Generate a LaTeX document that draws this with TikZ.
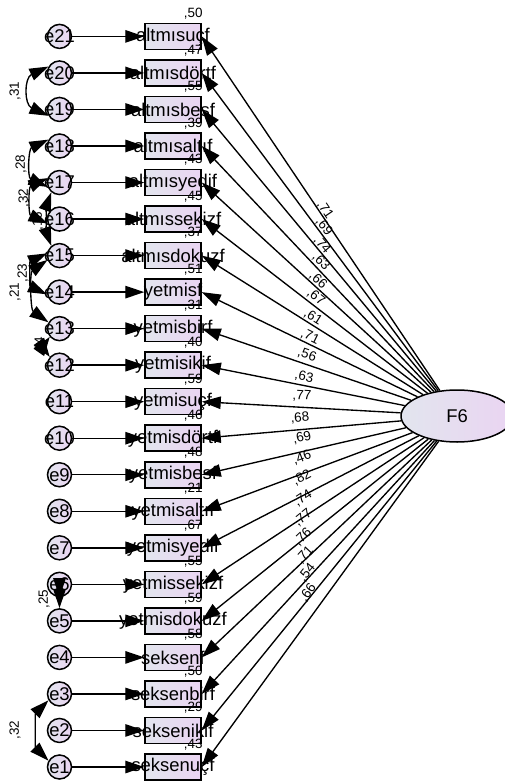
\documentclass[tikz,border=0pt]{standalone}
\usepackage{fontspec}
\setmainfont{Liberation Sans}
\usetikzlibrary{arrows.meta,shapes.geometric}
\definecolor{fillL}{HTML}{E2E5EE}
\definecolor{fillR}{HTML}{EAD4F2}
\begin{document}
\begin{tikzpicture}[x=1bp,y=1bp,
  arr/.style={-{Triangle[length=19bp,width=12.5bp]}, line width=1.35bp},
  biarr/.style={{Triangle[length=19bp,width=12.5bp]}-{Triangle[length=19bp,width=12.5bp]}, line width=1.35bp},
  errc/.style={circle, draw, line width=1.5bp, minimum size=24bp, inner sep=0pt, left color=fillL, right color=fillR, font=\fontsize{18.5}{18.5}\selectfont},
  obs/.style={rectangle, draw, line width=1.5bp, minimum width=56bp, minimum height=26bp, inner sep=0pt, left color=fillL, right color=fillR, font=\fontsize{18.5}{18.5}\selectfont},
  lat/.style={ellipse, draw, line width=1.5bp, minimum width=112bp, minimum height=52bp, inner sep=0pt, left color=fillL, right color=fillR, font=\fontsize{18.5}{18.5}\selectfont},
  small/.style={font=\fontsize{13.5}{13.5}\selectfont, inner sep=0pt}
]
\useasboundingbox (0,0) rectangle (505,-783);
% latent factor
\node[lat] (F6) at (457,-416) {F6};
% error circles and observed boxes
\foreach \k/\nm in {21/altmısuçf,20/altmısdörtf,19/altmısbesf,18/altmısaltıf,17/altmısyedif,16/altmıssekizf,15/altmısdokuzf,14/yetmisf,13/yetmisbirf,12/yetmisikif,11/yetmisuçf,10/yetmisdörtf,9/yetmisbesf,8/yetmisaltıf,7/yetmisyedif,6/yetmissekizf,5/yetmisdokuzf,4/seksenf,3/seksenbirf,2/seksenikif,1/seksenuçf}{
  \pgfmathsetmacro\yy{-(767-(\k-1)*36.53)}
  \node[errc] (e\k) at (59.5,\yy) {\makebox[0pt]{e\k}};
  \node[obs] (b\k) at (173,\yy) {\makebox[0pt]{\nm}};
}
% arrows
\foreach \k in {1,...,21}{
  \draw[arr] (e\k) -- (b\k);
  \draw[arr] (F6) -- (b\k.east);
}
% variances of the indicators
\foreach \k/\v in {21/{,50},20/{,47},19/{,55},18/{,39},17/{,43},16/{,45},15/{,37},14/{,51},13/{,31},12/{,40},11/{,59},10/{,46},9/{,48},8/{,21},7/{,67},6/{,55},5/{,59},4/{,58},3/{,50},2/{,29},1/{,43}}{
  \node[small, anchor=south east] at ([xshift=1bp,yshift=3bp]b\k.north east) {\v};
}
% loadings
\foreach \k/\v/\lx/\ly in {21/{,71}/325/210,20/{,69}/324/227,19/{,74}/322/245,18/{,63}/321/262,17/{,66}/318/280,16/{,67}/316/297,15/{,61}/313/317,14/{,71}/310/337,13/{,56}/307/355,12/{,63}/304/377,11/{,77}/302/396,10/{,68}/300/418,9/{,69}/302/438,8/{,46}/302/458,7/{,82}/302/478,6/{,74}/303/498,5/{,77}/303/518,4/{,76}/303/537,3/{,71}/305/555,2/{,54}/307/573,1/{,66}/308/593}{
  \pgfmathsetmacro\ang{atan2(767-(\k-1)*36.53-416,256)}
  \node[small, rotate=\ang] (l\k) at (\lx,-\ly) {\v};
}
% covariances
\draw[biarr] (e20.150) to[out=205,in=155,looseness=1.4] (e19.210);
\node[small, rotate=90] (c1) at (15,-91) {,31};
\draw[biarr] (e18.150) to[out=205,in=155,looseness=1.2] (e17.200);
\node[small, rotate=90] (c2) at (21,-164) {,28};
\draw[biarr] (e17.160) to[out=205,in=155,looseness=1.2] (e16.200);
\node[small, rotate=90] (c3) at (24,-198) {,32};
\draw[biarr] (e17.230) to[out=250,in=110,looseness=0.6] (e15.130);
\node[small, rotate=90] (c4) at (38,-221) {,16};
\draw[biarr] (e15.170) to[out=205,in=155,looseness=1.2] (e14.190);
\node[small, rotate=90] (c5) at (23,-273) {,23};
\draw[biarr] (e15.200) to[out=215,in=145,looseness=0.9] (e13.150);
\node[small, rotate=90] (c6) at (15,-292) {,21};
\draw[biarr] (e13.220) to[out=235,in=125,looseness=0.8] (e12.140);
\node[small, rotate=90] (c7) at (40,-346) {,14};
\draw[biarr] (e6.south) -- (e5.north);
\node[small, rotate=90] (c8) at (44,-599) {,25};
\draw[biarr] (e3.210) to[out=225,in=135,looseness=0.8] (e1.150);
\node[small, rotate=90] (c9) at (15,-730) {,32};
\end{tikzpicture}
\end{document}
